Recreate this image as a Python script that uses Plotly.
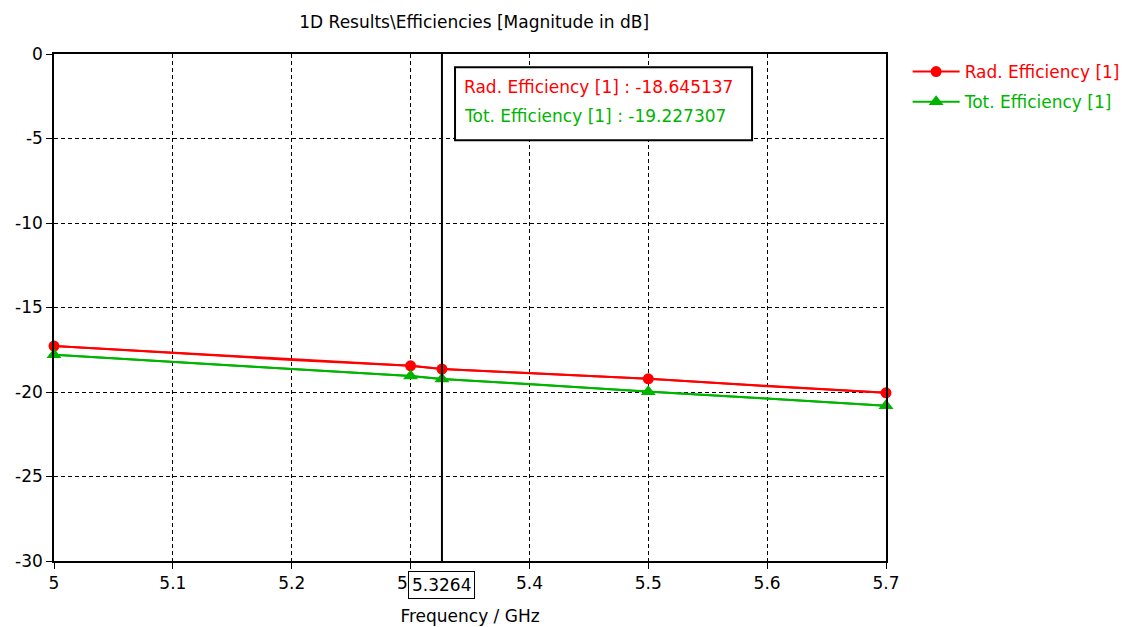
import plotly.graph_objects as go

freq = [5.0, 5.1, 5.2, 5.3, 5.3264, 5.4, 5.5, 5.6, 5.7]
rad_eff = [-17.28, -17.68, -18.10, -18.45, -18.645137, -18.88, -19.22, -19.66, -20.05]
tot_eff = [-17.80, -18.20, -18.64, -19.05, -19.227307, -19.53, -19.98, -20.38, -20.82]

marker_freq = [5.0, 5.3, 5.3264, 5.5, 5.7]
rad_marker = [rad_eff[freq.index(f)] for f in marker_freq]
tot_marker = [tot_eff[freq.index(f)] for f in marker_freq]

cursor_x = 5.3264
x_ticks = [5.0, 5.1, 5.2, 5.3, 5.4, 5.5, 5.6, 5.7]
x_tick_text = ["5", "5.1", "5.2", "5.3", "5.4", "5.5", "5.6", "5.7"]
y_ticks = [0, -5, -10, -15, -20, -25, -30]
y_tick_text = ["0", "-5", "-10", "-15", "-20", "-25", "-30"]

RED = "#ff0000"
GREEN = "#00b400"
FONT = "DejaVu Sans"
FS = 17

fig = go.Figure()
fig.add_trace(go.Scatter(x=freq, y=rad_eff, mode="lines", line=dict(color=RED, width=2),
                         showlegend=False, hoverinfo="skip"))
fig.add_trace(go.Scatter(x=freq, y=tot_eff, mode="lines", line=dict(color=GREEN, width=2),
                         showlegend=False, hoverinfo="skip"))
fig.add_trace(go.Scatter(x=marker_freq, y=rad_marker, mode="lines+markers", cliponaxis=False,
                         line=dict(color=RED, width=2), legendgroup="rad",
                         marker=dict(symbol="circle", size=11, color=RED),
                         name="<span style='color:#ff0000'>Rad. Efficiency [1]</span>"))
fig.add_trace(go.Scatter(x=marker_freq, y=tot_marker, mode="lines+markers", cliponaxis=False,
                         line=dict(color=GREEN, width=2), legendgroup="tot",
                         marker=dict(symbol="triangle-up", size=13, color=GREEN),
                         name="<span style='color:#00b400'>Tot. Efficiency [1]</span>"))

# cursor line
fig.add_shape(type="line", xref="x", yref="paper", x0=cursor_x, x1=cursor_x, y0=0, y1=1,
              line=dict(color="black", width=2))

# cursor readout box
fig.add_shape(type="rect", xref="paper", yref="paper", x0=0.482, x1=0.839, y0=0.830, y1=0.974,
              line=dict(color="black", width=2), fillcolor="white", layer="above")
fig.add_annotation(xref="paper", yref="paper", x=0.490, y=0.935, xanchor="left", yanchor="middle",
                   text=f"Rad. Efficiency [1] : {rad_eff[4]:.6f}", showarrow=False,
                   font=dict(family=FONT, size=FS, color=RED))
fig.add_annotation(xref="paper", yref="paper", x=0.490, y=0.878, xanchor="left", yanchor="middle",
                   text=f"Tot. Efficiency [1] : {tot_eff[4]:.6f}", showarrow=False,
                   font=dict(family=FONT, size=FS, color=GREEN))

# cursor x label
fig.add_annotation(xref="x", yref="paper", x=cursor_x, y=-0.019, yanchor="top",
                   text=f"{cursor_x}", showarrow=False, bgcolor="white",
                   bordercolor="black", borderwidth=1, borderpad=3,
                   font=dict(family=FONT, size=FS, color="black"))

fig.update_layout(
    width=1129, height=627,
    margin=dict(l=54, r=243, t=54, b=66, autoexpand=False),
    paper_bgcolor="white", plot_bgcolor="white",
    font=dict(family=FONT, size=FS, color="black"),
    title=dict(text="1D Results\\Efficiencies [Magnitude in dB]", x=0.42, xanchor="center",
               y=0.965, yanchor="middle", font=dict(family=FONT, size=FS, color="black")),
    legend=dict(x=1.026, y=1.0, xanchor="left", yanchor="top", bgcolor="rgba(0,0,0,0)",
                font=dict(family=FONT, size=FS), itemwidth=47, tracegroupgap=5),
    showlegend=True,
)
fig.update_xaxes(range=[5.0, 5.7], tickvals=x_ticks, ticktext=x_tick_text,
                 showgrid=True, gridcolor="black", gridwidth=1, griddash="4px,3px",
                 showline=True, linecolor="black", linewidth=1.5, mirror=True,
                 ticks="outside", ticklen=6, tickcolor="black", zeroline=False,
                 tickfont=dict(family=FONT, size=FS),
                 title=dict(text="Frequency / GHz", standoff=18, font=dict(family=FONT, size=FS)))
fig.update_yaxes(range=[-30, 0], tickvals=y_ticks, ticktext=y_tick_text,
                 showgrid=True, gridcolor="black", gridwidth=1, griddash="4px,3px",
                 showline=True, linecolor="black", linewidth=1.5, mirror=True,
                 ticks="outside", ticklen=6, tickcolor="black", zeroline=False,
                 tickfont=dict(family=FONT, size=FS))

fig.write_html("out.html")
